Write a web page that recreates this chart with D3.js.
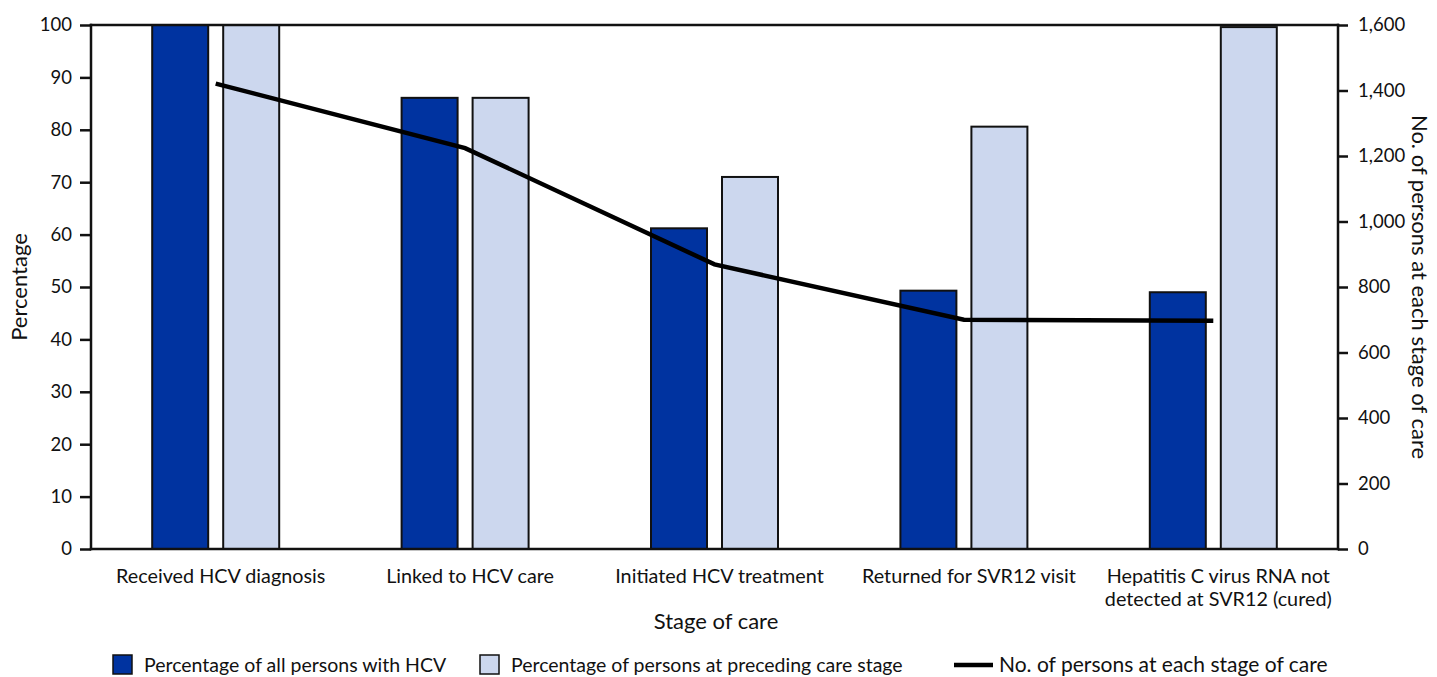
<!DOCTYPE html>
<html>
<head>
<meta charset="utf-8">
<script src="https://cdn.jsdelivr.net/npm/d3@7"></script>
<style>
  body { margin: 0; background: #fff; }
  svg text { font-family: "Lato", "Noto Sans", sans-serif; fill: #111; }
</style>
</head>
<body>
<div id="chart"></div>
<script>
// stages of the HCV care cascade
const stages = [
    ["Received HCV diagnosis"],
    ["Linked to HCV care"],
    ["Initiated HCV treatment"],
    ["Returned for SVR12 visit"],
    ["Hepatitis C virus RNA not", "detected at SVR12 (cured)"]
];
const pctAll = [100, 86.1, 61.2, 49.3, 49.0];
const pctPreceding = [100, 86.1, 71.0, 80.6, 99.6];
const personCounts = [1421, 1224, 869, 700, 697];
const pctTicks = [0, 10, 20, 30, 40, 50, 60, 70, 80, 90, 100];
const countTicks = [0, 200, 400, 600, 800, 1000, 1200, 1400, 1600];

const W = 1437, H = 677;
const plotLeft = 91, plotRight = 1338, plotTop = 25, plotBottom = 549;
const darkBlue = "#0033a0", lightBlue = "#ccd7ee";

const svg = d3.select("#chart").append("svg")
    .attr("width", W)
    .attr("height", H);

const x = d3.scaleBand()
    .domain(d3.range(stages.length))
    .range([plotLeft, plotRight]);

const yPct = d3.scaleLinear().domain([0, 100]).range([plotBottom, plotTop]);
const yCount = d3.scaleLinear().domain([0, 1600]).range([plotBottom, plotTop]);

const barW = 56, barGap = 15;

// bars
const groups = svg.append("g").selectAll("g")
    .data(d3.range(stages.length))
    .join("g");

groups.append("rect")
    .attr("x", i => x(i) + x.bandwidth() / 2 - barGap / 2 - barW)
    .attr("y", i => yPct(pctAll[i]))
    .attr("width", barW)
    .attr("height", i => plotBottom - yPct(pctAll[i]))
    .attr("fill", darkBlue)
    .attr("stroke", "#111")
    .attr("stroke-width", 2);

groups.append("rect")
    .attr("x", i => x(i) + x.bandwidth() / 2 + barGap / 2)
    .attr("y", i => yPct(pctPreceding[i]))
    .attr("width", barW)
    .attr("height", i => plotBottom - yPct(pctPreceding[i]))
    .attr("fill", lightBlue)
    .attr("stroke", "#111")
    .attr("stroke-width", 2);

// count line on the right axis
const line = d3.line()
    .x((d, i) => x(i) + x.bandwidth() / 2)
    .y(d => yCount(d));

svg.append("path")
    .datum(personCounts)
    .attr("d", line)
    .attr("fill", "none")
    .attr("stroke", "#000")
    .attr("stroke-width", 4.5);

// axes
const leftAxis = svg.append("g")
    .attr("transform", `translate(${plotLeft},0)`)
    .call(d3.axisLeft(yPct).tickValues(pctTicks).tickSize(11).tickPadding(8));

const rightAxis = svg.append("g")
    .attr("transform", `translate(${plotRight},0)`)
    .call(d3.axisRight(yCount).tickValues(countTicks).tickSize(10)
        .tickPadding(10).tickFormat(d3.format(",")));

[leftAxis, rightAxis].forEach(a => {
    a.select(".domain").remove();
    a.selectAll("line").attr("stroke", "#111").attr("stroke-width", 2.5);
    a.selectAll("text").attr("font-size", 18.5).attr("fill", "#111");
});

// frame
[[plotLeft, plotTop, plotLeft, plotBottom],
 [plotRight, plotTop, plotRight, plotBottom],
 [plotLeft, plotTop, plotRight, plotTop],
 [plotLeft, plotBottom, plotRight, plotBottom]].forEach(([x1, y1, x2, y2]) => {
    svg.append("line")
        .attr("x1", x1).attr("y1", y1).attr("x2", x2).attr("y2", y2)
        .attr("stroke", "#111").attr("stroke-width", 2.5)
        .attr("stroke-linecap", "square");
});

// category labels
const catLabels = svg.append("g").selectAll("text")
    .data(stages)
    .join("text")
    .attr("x", (d, i) => x(i) + x.bandwidth() / 2 + 5)
    .attr("y", 583)
    .attr("text-anchor", "middle")
    .attr("font-size", 19.8);

catLabels.selectAll("tspan")
    .data(d => d)
    .join("tspan")
    .attr("x", function () { return this.parentNode.getAttribute("x"); })
    .attr("dy", (d, i) => i === 0 ? 0 : 23)
    .text(d => d);

// axis titles
svg.append("text")
    .attr("x", 716).attr("y", 629)
    .attr("text-anchor", "middle")
    .attr("font-size", 22)
    .text("Stage of care");

svg.append("text")
    .attr("transform", `translate(27,${(plotTop + plotBottom) / 2}) rotate(-90)`)
    .attr("text-anchor", "middle")
    .attr("font-size", 22)
    .text("Percentage");

svg.append("text")
    .attr("transform", `translate(1412,${(plotTop + plotBottom) / 2}) rotate(90)`)
    .attr("text-anchor", "middle")
    .attr("font-size", 22)
    .text("No. of persons at each stage of care");

// legend
const legend = svg.append("g").attr("transform", "translate(0,665)");

legend.append("rect")
    .attr("x", 113).attr("y", -10).attr("width", 19).attr("height", 19)
    .attr("fill", darkBlue).attr("stroke", "#111").attr("stroke-width", 1.5);
legend.append("text")
    .attr("x", 144).attr("y", 7).attr("font-size", 19.5)
    .text("Percentage of all persons with HCV");

legend.append("rect")
    .attr("x", 480).attr("y", -10).attr("width", 19).attr("height", 19)
    .attr("fill", lightBlue).attr("stroke", "#111").attr("stroke-width", 1.5);
legend.append("text")
    .attr("x", 511).attr("y", 7).attr("font-size", 19.5)
    .text("Percentage of persons at preceding care stage");

legend.append("line")
    .attr("x1", 954).attr("x2", 993).attr("y1", 0).attr("y2", 0)
    .attr("stroke", "#000").attr("stroke-width", 4.5);
legend.append("text")
    .attr("x", 999).attr("y", 7).attr("font-size", 21)
    .text("No. of persons at each stage of care");
</script>
</body>
</html>
